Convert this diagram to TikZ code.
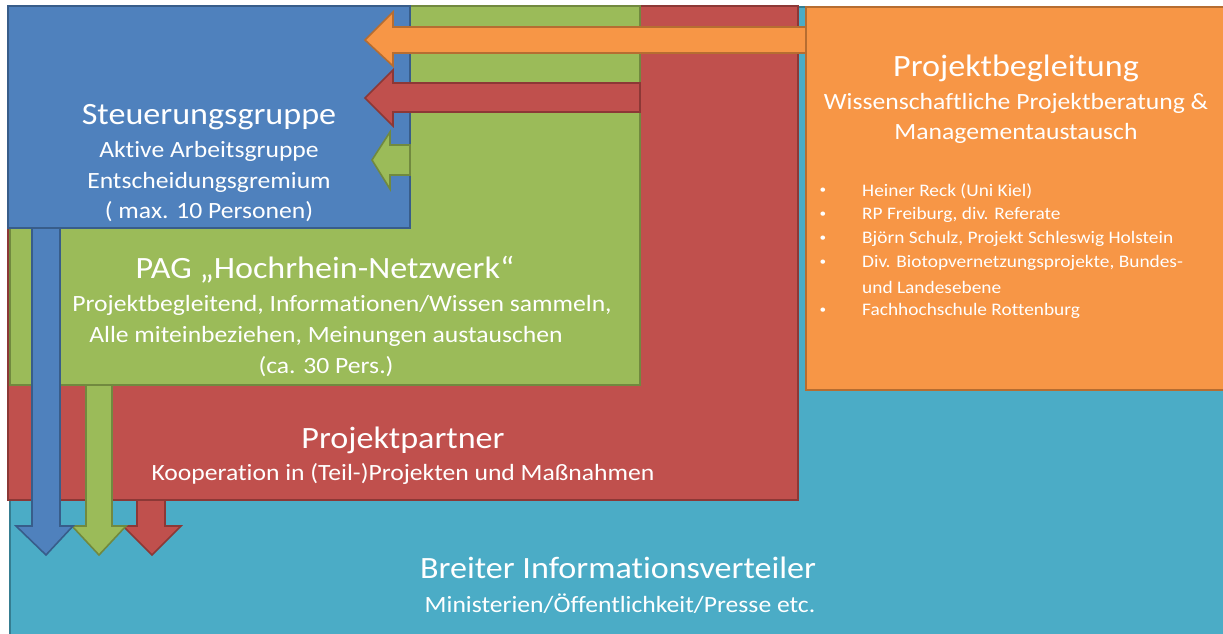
\documentclass[tikz,border=0pt]{standalone}
\usepackage{fontspec}
\setmainfont[FakeStretch=1.1, Ligatures=NoCommon]{Carlito}
\definecolor{cblue}{HTML}{4F81BD}\definecolor{bblue}{HTML}{385D8A}
\definecolor{cgreen}{HTML}{9BBB59}\definecolor{bgreen}{HTML}{71893F}
\definecolor{cred}{HTML}{C0504D}\definecolor{bred}{HTML}{8C3836}
\definecolor{corange}{HTML}{F79646}\definecolor{borange}{HTML}{B66D31}
\definecolor{cteal}{HTML}{4BACC6}\definecolor{bteal}{HTML}{357D91}
\begin{document}
\begin{tikzpicture}[x=1pt,y=-1pt,
  box/.style={line width=2.2pt},
  arr/.style={line width=1.6pt, line join=miter},
  txt/.style={text=white, align=center, inner sep=0pt},
  ttl/.style={txt, font=\fontsize{31}{36}\selectfont},
  sub/.style={txt, font=\fontsize{23.3}{30.5}\selectfont},
  bul/.style={text=white, anchor=west, inner sep=0pt, font=\fontsize{17.6}{20}\selectfont},
  dot/.style={text=white, inner sep=0pt, font=\fontsize{12}{14}\selectfont}]
\useasboundingbox (0,0) rectangle (1223,633);
\fill[white] (0,0) rectangle (1223,633);
% background
\draw[box, fill=cteal, draw=bteal] (10,7) rectangle (1226,636);
% boxes
\draw[box, fill=cred, draw=bred] (8,6) rectangle (798,500);
\draw[box, fill=cgreen, draw=bgreen] (10,6) rectangle (640,385);
\draw[box, fill=cblue, draw=bblue] (8,6) rectangle (410,228);
% left arrows
\draw[arr, fill=corange, draw=borange] (806,27) -- (393,27) -- (393,12) -- (365,40) -- (393,66) -- (393,53) -- (806,53) -- cycle;
\draw[arr, fill=cred, draw=bred] (640,83) -- (393,83) -- (393,70) -- (365,98) -- (393,126) -- (393,112) -- (640,112) -- cycle;
\draw[arr, fill=cgreen, draw=bgreen] (410,145) -- (390,145) -- (390,132) -- (372,160) -- (390,189) -- (390,175) -- (410,175) -- cycle;
% down arrows
\draw[arr, fill=cred, draw=bred] (137,500) -- (137,526) -- (123,526) -- (152,555) -- (181,526) -- (165,526) -- (165,500) -- cycle;
\draw[arr, fill=cgreen, draw=bgreen] (86,385) -- (86,526) -- (72,526) -- (99,555) -- (126,526) -- (112,526) -- (112,385) -- cycle;
\draw[arr, fill=cblue, draw=bblue] (32,228) -- (32,526) -- (16,526) -- (46,555) -- (73,526) -- (60,526) -- (60,228) -- cycle;
% orange box
\draw[box, fill=corange, draw=borange] (806,7) rectangle (1226,390);
% texts
\node[ttl] (steerT) at (209,117) {Steuerungsgruppe};
\node[sub] (steerS) at (209,182) {Aktive Arbeitsgruppe\\Entscheidungsgremium\\( max. 10 Personen)};
\node[ttl] (pagT) at (325,270) {PAG „Hochrhein-Netzwerk“};
\node[sub] (pagS1) at (342,305) {Projektbegleitend, Informationen/Wissen sammeln,};
\node[sub] (pagS2) at (326,336) {Alle miteinbeziehen, Meinungen austauschen};
\node[sub] (pagS3) at (326,367) {(ca. 30 Pers.)};
\node[ttl] (ppT) at (403,440) {Projektpartner};
\node[sub] (ppS) at (403,474) {Kooperation in (Teil-)Projekten und Maßnahmen};
\node[ttl] (pbT) at (1016,68) {Projektbegleitung};
\node[sub] (pbS) at (1016,118.5) {Wissenschaftliche Projektberatung \&\\Managementaustausch};
\foreach \y in {191,215,239,263,311}{
  \node[dot] at (823,\y) {•};
}
\node[bul] (b1) at (862,191) {Heiner Reck (Uni Kiel)};
\node[bul] (b2) at (862,215) {RP Freiburg, div. Referate};
\node[bul] (b3) at (862,239) {Björn Schulz, Projekt Schleswig Holstein};
\node[bul] (b4) at (862,263) {Div. Biotopvernetzungsprojekte, Bundes-};
\node[bul] (b5) at (862,287) {und Landesebene};
\node[bul] (b6) at (862,311) {Fachhochschule Rottenburg};
\node[ttl] (biT) at (618,568) {Breiter Informationsverteiler};
\node[sub] (biS) at (620,604) {Ministerien/Öffentlichkeit/Presse etc.};
\end{tikzpicture}
\end{document}
